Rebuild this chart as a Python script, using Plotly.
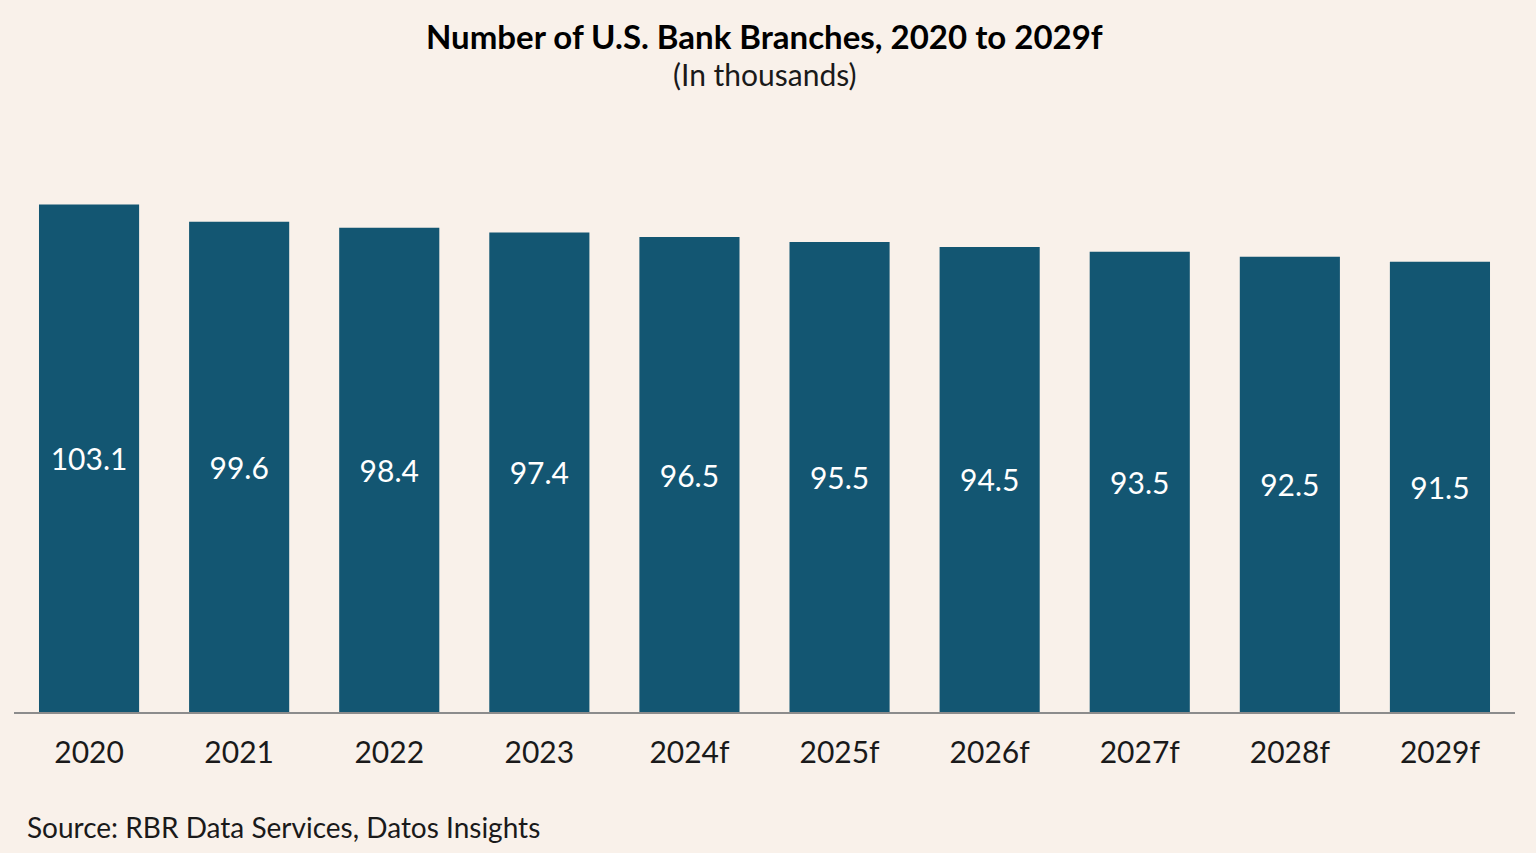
import plotly.graph_objects as go

years = ["2020", "2021", "2022", "2023", "2024f", "2025f", "2026f", "2027f", "2028f", "2029f"]
branches = [103.1, 99.6, 98.4, 97.4, 96.5, 95.5, 94.5, 93.5, 92.5, 91.5]

bg = "#F9F1EA"
bar_color = "#135672"
font_family = "Lato, 'Open Sans', sans-serif"

fig = go.Figure(
    go.Bar(
        x=years,
        y=branches,
        marker=dict(color=bar_color, line=dict(width=0)),
        text=[f"{v:.1f}" for v in branches],
        textposition="inside",
        insidetextanchor="middle",
        textfont=dict(color="white", size=30, family=font_family),
        hoverinfo="x+y",
    )
)

fig.update_layout(
    width=1536,
    height=853,
    paper_bgcolor=bg,
    plot_bgcolor=bg,
    margin=dict(l=14, r=21, t=146, b=141),
    bargap=0.333,
    showlegend=False,
    font=dict(family=font_family, size=30, color="#1a1a1a"),
)

fig.update_xaxes(
    showline=True,
    linecolor="#8c8c8c",
    linewidth=2,
    ticks="outside",
    ticklen=13,
    tickcolor="rgba(0,0,0,0)",
    tickfont=dict(size=30, color="#1a1a1a"),
    showgrid=False,
)
fig.update_yaxes(
    range=[0, 115],
    visible=False,
    showgrid=False,
    zeroline=False,
)

fig.add_annotation(
    text="<b>Number of U.S. Bank Branches, 2020 to 2029f</b>",
    xref="paper", yref="paper", x=0.5, y=1.1936,
    xanchor="center", yanchor="middle", showarrow=False,
    font=dict(size=33, color="black", family=font_family, weight=900),
)
fig.add_annotation(
    text="(In thousands)",
    xref="paper", yref="paper", x=0.5, y=1.128,
    xanchor="center", yanchor="middle", showarrow=False,
    font=dict(size=30, color="#1a1a1a", family=font_family),
)
fig.add_annotation(
    text="Source: RBR Data Services, Datos Insights",
    xref="paper", yref="paper", x=0.0073, y=-0.2034,
    xanchor="left", yanchor="middle", showarrow=False,
    font=dict(size=28, color="#1a1a1a", family=font_family),
)

# drop the default body margin so the figure fills the window
fig.write_html(
    "out.html",
    config={"displayModeBar": False},
    post_script="document.body.style.margin='0';",
)
